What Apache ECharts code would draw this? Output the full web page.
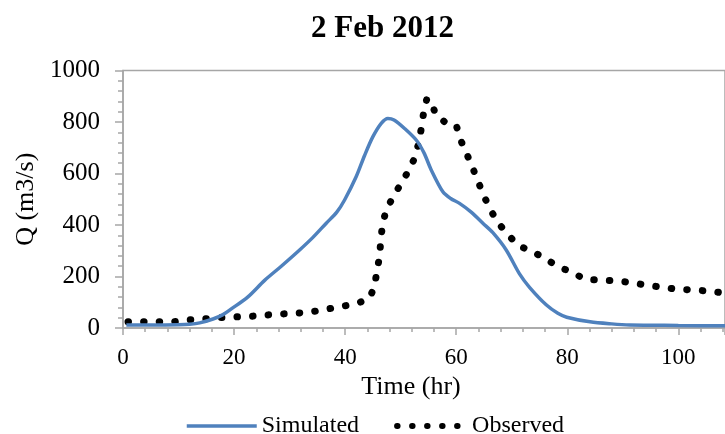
<!DOCTYPE html>
<html>
<head>
<meta charset="utf-8">
<script src="https://cdn.jsdelivr.net/npm/echarts@6/dist/echarts.min.js"></script>
<style>
html,body{margin:0;padding:0;background:#fff;}
#chart{width:725px;height:434px;}
</style>
</head>
<body>
<div id="chart"></div>
<script>
var titleText = '2 Feb 2012';
var xAxisName = 'Time (hr)';
var yAxisName = 'Q (m3/s)';
var seriesNames = ['Simulated', 'Observed'];

var simulatedTime = [0.6, 5, 10, 12, 13.8, 16.2, 18, 19.5, 22.5, 25.5, 28.5, 31.8, 34.2, 36.6, 38.5, 39.9, 42, 43.5, 45, 46.5, 47.7, 48.8, 50.7, 52.8, 54.2, 55.5, 57.6, 59, 60.6, 62.7, 64.8, 66.6, 69, 71.4, 73.2, 76.2, 78.3, 79.9, 84.1, 88, 91.3, 100, 110];
var simulatedQ    = [12, 12, 13, 15, 20, 35, 52, 74, 121, 185, 240, 303, 352, 407, 450, 497, 588, 670, 743, 795, 814, 808, 775, 730, 680, 614, 529, 503, 484, 450, 407, 370, 303, 210, 158, 90, 57, 42, 24, 16, 12, 10, 8];

var observedTime = [0.9, 9.1, 11.9, 14.6, 17.3, 20.1, 22.8, 25.5, 28.2, 30.9, 33.7, 36.4, 39.1, 41.8, 44.3, 45.3, 45.7, 46.2, 46.4, 46.7, 47.3, 48.5, 49.9, 51.3, 52.5, 53.2, 53.7, 54.1, 54.7, 55.5, 56.3, 57.9, 60, 60.8, 61.9, 63, 64, 65, 66.2, 67.5, 69.3, 71.1, 73.7, 76.1, 78.4, 80.9, 83.2, 86, 88.7, 91.4, 94.1, 96.8, 99.7, 102.4, 105.1, 107.8, 110];
var observedQ    = [24, 24, 32, 35, 40, 43, 45, 50, 54, 57, 62, 72, 83, 93, 113, 160, 219, 277, 337, 396, 452, 505, 555, 606, 659, 715, 773, 831, 889, 883, 827, 801, 788, 730, 676, 620, 566, 512, 458, 409, 364, 320, 298, 268, 238, 216, 189, 186, 183, 177, 167, 159, 151, 148, 144, 137, 134];

function zip(xs, ys) { return xs.map(function (x, i) { return [x, ys[i]]; }); }

var serif = '"Liberation Serif", "Times New Roman", serif';
var axisGray = '#a6a6a6';
var hiddenSymbol = {color: 'rgba(0,0,0,0)', opacity: 0, borderWidth: 0};

var chart = echarts.init(document.getElementById('chart'), null, {renderer: 'canvas'});
chart.setOption({
  animation: false,
  backgroundColor: '#ffffff',
  title: {
    text: titleText,
    left: 306,
    top: 8,
    textStyle: {fontFamily: serif, fontSize: 31, fontWeight: 'bold', color: '#000'}
  },
  grid: {
    left: 123, top: 70.5, right: 0, bottom: 106,
    show: true, borderColor: axisGray, borderWidth: 1.5, backgroundColor: 'transparent'
  },
  legend: {
    left: 180, top: 409,
    itemWidth: 70, itemHeight: 24, itemGap: 35,
    textStyle: {fontFamily: serif, fontSize: 24, color: '#000'},
    itemStyle: hiddenSymbol,
    data: [
      {name: seriesNames[0], itemStyle: hiddenSymbol, lineStyle: {color: '#4f81bd', width: 3.5, type: 'solid'}},
      {name: seriesNames[1], itemStyle: hiddenSymbol, lineStyle: {color: '#000', width: 6, type: [0.5, 14.5], cap: 'round'}}
    ]
  },
  xAxis: {
    type: 'value', min: 0, max: 108.4, interval: 20,
    name: xAxisName, nameLocation: 'middle', nameGap: 44,
    nameTextStyle: {fontFamily: serif, fontSize: 26, color: '#000', padding: [0, 26, 0, 0]},
    axisLine: {show: true, onZero: false, lineStyle: {color: axisGray, width: 1.5}},
    axisTick: {show: true, length: 7, lineStyle: {color: axisGray, width: 1.5}},
    minorTick: {show: true, splitNumber: 5, length: 4, lineStyle: {color: axisGray, width: 1.5}},
    splitLine: {show: false},
    axisLabel: {fontFamily: serif, fontSize: 23, color: '#000', margin: 18, showMaxLabel: false,
      formatter: function (v) { return v % 20 === 0 ? String(v) : ''; }}
  },
  yAxis: {
    type: 'value', min: 0, max: 1000, interval: 200,
    name: yAxisName, nameLocation: 'middle', nameGap: 79, nameRotate: 90,
    nameTextStyle: {fontFamily: serif, fontSize: 26, color: '#000'},
    axisLine: {show: true, lineStyle: {color: axisGray, width: 1.5}},
    axisTick: {show: true, length: 8, lineStyle: {color: axisGray, width: 1.5}},
    minorTick: {show: true, splitNumber: 5, length: 5, lineStyle: {color: axisGray, width: 1.5}},
    splitLine: {show: false},
    axisLabel: {fontFamily: serif, fontSize: 25, color: '#000', margin: 23,
      formatter: function (v) { return String(v); }}
  },
  series: [
    {
      name: seriesNames[0], type: 'line', data: zip(simulatedTime, simulatedQ),
      showSymbol: false, symbol: 'none', smooth: 0.3,
      lineStyle: {color: '#4f81bd', width: 3.5},
      itemStyle: {color: '#4f81bd'}, z: 3
    },
    {
      name: seriesNames[1], type: 'line', data: zip(observedTime, observedQ),
      showSymbol: false, symbol: 'none', smooth: false,
      lineStyle: {color: '#000', width: 7, type: [0.5, 15.1], cap: 'round', join: 'round'},
      itemStyle: {color: '#000'}, z: 2
    }
  ]
});
</script>
</body>
</html>
